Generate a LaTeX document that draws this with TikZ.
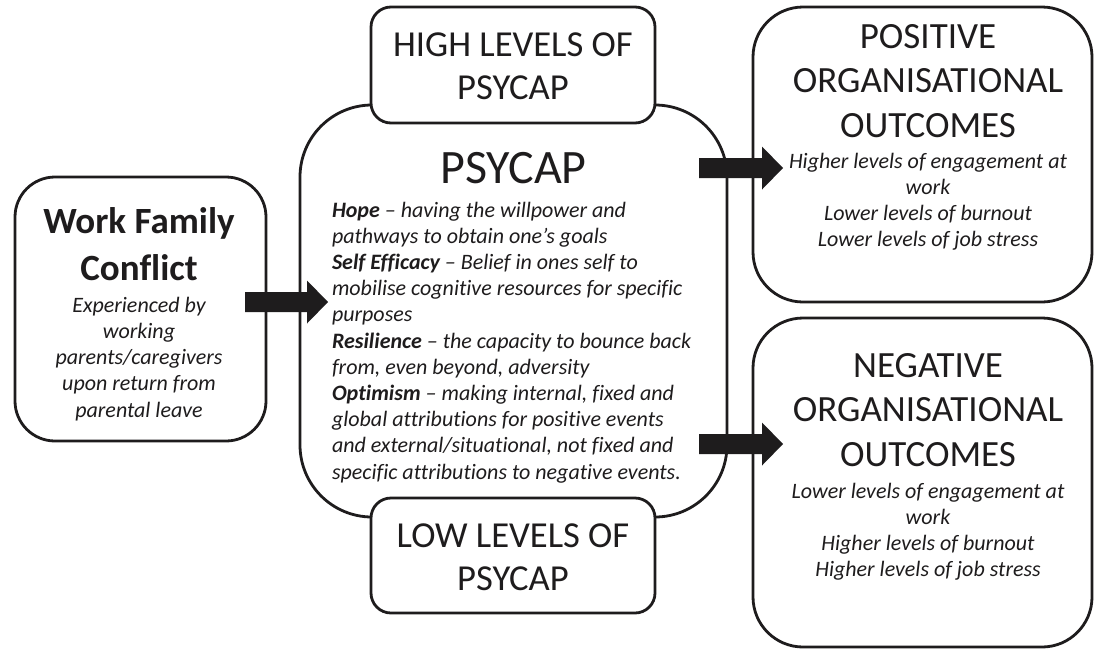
\documentclass[tikz,border=0pt]{standalone}
\usepackage{fontspec}
\setmainfont{Carlito}[Ligatures={NoCommon}]
\usetikzlibrary{calc}
% fixed-height lead so each text block can be placed by its first baseline
\newcommand\cstrut{\rule{0pt}{1em}}
% horizontal block arrow from the first coordinate to the tip at the second
\newcommand\blockarrow[2]{%
  \fill[inkblack] let \p1=(#1), \p2=(#2) in
    (\x1,\y1+10pt) -- (\x2-21pt,\y1+10pt) -- (\x2-21pt,\y1+21.5pt) --
    (\x2,\y1) -- (\x2-21pt,\y1-21.5pt) -- (\x2-21pt,\y1-10pt) --
    (\x1,\y1-10pt) -- cycle;}
\definecolor{inkblack}{HTML}{1E1C1D}
\begin{document}
\begin{tikzpicture}[x=1pt,y=-1pt,
  box/.style={draw=inkblack, line width=2.8pt, fill=white, inner sep=0pt, outer sep=0pt},
  txt/.style={text=inkblack, inner sep=0pt, outer sep=0pt, anchor=north, align=center},
  headfont/.style={font=\fontsize{37}{44.5}\selectfont},
  notefont/.style={font=\itshape\fontsize{22}{26.2}\selectfont}]
\useasboundingbox (0,0) rectangle (1094,649);

% boxes
\node[box, rounded corners=72pt, minimum width=427pt, minimum height=412pt] (psy) at (513.5,311) {};
\node[box, rounded corners=20pt, minimum width=284pt, minimum height=116pt] (high) at (513,65) {};
\node[box, rounded corners=20pt, minimum width=284pt, minimum height=115pt] (low) at (513,555.5) {};
\node[box, rounded corners=40pt, minimum width=251pt, minimum height=264pt] (wfc) at (140.5,309) {};
\node[box, rounded corners=50pt, minimum width=339pt, minimum height=295pt] (pos) at (922.5,154.5) {};
\node[box, rounded corners=50pt, minimum width=339pt, minimum height=329pt] (neg) at (922.5,482.5) {};

% arrow ends
\coordinate (a1s) at ($(wfc.east)+(-21,-7)$);
\coordinate (a1t) at ($(psy.west)+(28,-9)$);
\coordinate (a2s) at ($(psy.east)+(-28,-143)$);
\coordinate (a2t) at ($(pos.west)+(30,13.5)$);
\coordinate (a3s) at ($(psy.east)+(-28,133)$);
\coordinate (a3t) at ($(neg.west)+(30,-38.5)$);
\blockarrow{a1s}{a1t}
\blockarrow{a2s}{a2t}
\blockarrow{a3s}{a3t}

% texts
\node[txt, font=\bfseries\fontsize{37}{47}\selectfont] (wfct) at (139,196)
  {\cstrut Work Family\\Conflict};
\node[txt, font=\itshape\fontsize{22}{26.25}\selectfont] (wfcn) at (139,290)
  {\cstrut Experienced by\\working\\parents/caregivers\\upon return from\\parental leave};

\node[txt, font=\fontsize{48}{55}\selectfont] (psyt) at (513.5,135) {\cstrut PSYCAP};
\node[txt, notefont, anchor=north west, align=left] (psyn) at (332,195)
  {\cstrut\textbf{Hope} – having the willpower and\\
   pathways to obtain one’s goals\\
   \textbf{Self Efficacy} – Belief in ones self to\\
   mobilise cognitive resources for specific\\
   purposes\\
   \textbf{Resilience} – the capacity to bounce back\\
   from, even beyond, adversity\\
   \textbf{Optimism} – making internal, fixed and\\
   global attributions for positive events\\
   and external/situational, not fixed and\\
   specific attributions to negative events.};

\node[txt, font=\fontsize{36.6}{43}\selectfont] (hight) at (513,19.4)
  {\cstrut HIGH LEVELS OF\\PSYCAP};
\node[txt, font=\fontsize{36.6}{43}\selectfont] (lowt) at (513,510.4)
  {\cstrut LOW LEVELS OF\\PSYCAP};

\node[txt, headfont] (post) at (928,11)
  {\cstrut POSITIVE\\ORGANISATIONAL\\OUTCOMES};
\node[txt, font=\itshape\fontsize{22}{26}\selectfont] (posn) at (928,146)
  {\cstrut Higher levels of engagement at\\work\\Lower levels of burnout\\Lower levels of job stress};

\node[txt, headfont] (negt) at (928,340)
  {\cstrut NEGATIVE\\ORGANISATIONAL\\OUTCOMES};
\node[txt, font=\itshape\fontsize{22}{26.3}\selectfont] (negn) at (928,476)
  {\cstrut Lower levels of engagement at\\work\\Higher levels of burnout\\Higher levels of job stress};
\end{tikzpicture}
\end{document}
